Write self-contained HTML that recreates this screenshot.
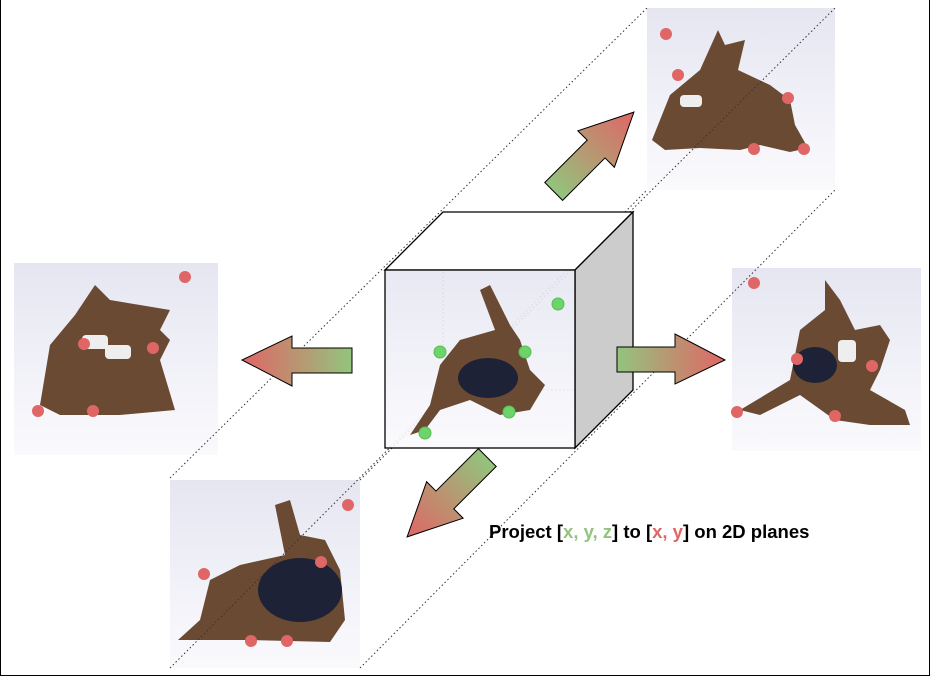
<!DOCTYPE html>
<html><head><meta charset="utf-8"><style>
html,body{margin:0;padding:0;background:#fff;}
svg{display:block;}
</style></head><body>
<svg width="931" height="678" viewBox="0 0 931 678" xmlns="http://www.w3.org/2000/svg">
<defs>
<linearGradient id="bg" x1="0" y1="0" x2="0" y2="1">
<stop offset="0" stop-color="#e6e6f2"/><stop offset="1" stop-color="#fafafd"/></linearGradient>
<linearGradient id="gR" x1="0" y1="0" x2="1" y2="0"><stop offset="0" stop-color="#93c47d"/><stop offset="1" stop-color="#e06666"/></linearGradient>
</defs>
<rect x="0.5" y="-2" width="929" height="677.5" fill="#fff" stroke="#000" stroke-width="1"/>

<rect x="647" y="8" width="188" height="182" fill="url(#bg)"/>
<rect x="14" y="263" width="204" height="192" fill="url(#bg)"/>
<rect x="732" y="268" width="189" height="183" fill="url(#bg)"/>
<rect x="170" y="480" width="190" height="188" fill="url(#bg)"/>

<g fill="#6b4a33">
<path d="M652 140 L670 95 L700 70 L718 30 L725 45 L745 40 L738 70 L770 85 L790 100 L795 125 L808 148 L790 152 L760 145 L740 150 L700 148 L665 150 Z"/>
<path d="M40 405 L50 345 L75 315 L95 285 L110 300 L140 305 L170 310 L160 330 L170 340 L160 360 L175 410 L120 415 L60 415 Z"/>
<path d="M740 410 L790 380 L800 330 L825 310 L825 280 L840 300 L855 330 L880 325 L890 340 L880 370 L870 390 L905 410 L910 425 L870 425 L835 420 L800 395 L760 415 Z"/>
<path d="M178 640 L200 620 L210 580 L240 565 L285 555 L275 505 L290 500 L300 535 L325 540 L340 570 L345 620 L330 642 L250 640 Z"/>
</g>
<g fill="#1e2236">
<ellipse cx="300" cy="590" rx="42" ry="32"/>
<ellipse cx="815" cy="365" rx="22" ry="18"/>
</g>
<g fill="#eeeeee"><rect x="82" y="335" width="26" height="14" rx="4"/><rect x="105" y="345" width="26" height="14" rx="4"/><rect x="680" y="95" width="22" height="12" rx="4"/><rect x="838" y="340" width="18" height="22" rx="4"/></g>

<g stroke="#333" stroke-width="1" stroke-dasharray="1.5,2.5" fill="none">
<line x1="170" y1="478" x2="647" y2="8"/>
<line x1="360" y1="480" x2="835" y2="8"/>
<line x1="360" y1="668" x2="835" y2="190"/>
<line x1="170" y1="668" x2="647" y2="190"/>
<line x1="443" y1="212" x2="443" y2="390"/>
<line x1="443" y1="390" x2="633" y2="390"/>
</g>

<polygon points="385,270 443,212 633,212 575,270" fill="#fff" stroke="#000" stroke-width="1.3"/>
<polygon points="575,270 633,212 633,390 575,448" fill="#cccccc" stroke="#000" stroke-width="1.3"/>
<rect x="385" y="270" width="190" height="178" fill="url(#bg)" fill-opacity="0.9" stroke="#000" stroke-width="1.3"/>
<path d="M410 435 L430 405 L440 365 L460 340 L495 330 L480 290 L490 285 L510 325 L520 340 L530 370 L545 385 L530 410 L500 415 L470 400 L440 410 L425 430 Z" fill="#6b4a33"/>
<ellipse cx="488" cy="378" rx="30" ry="20" fill="#1e2236"/>

<g fill="#6dd36a" stroke="#55c050" stroke-width="1">
<circle cx="558" cy="304" r="6"/><circle cx="440" cy="352" r="6"/><circle cx="525" cy="352" r="6"/>
<circle cx="509" cy="412" r="6"/><circle cx="425" cy="433" r="6"/></g>

<g fill="#e06666">
<circle cx="666" cy="34" r="6"/><circle cx="678" cy="75" r="6"/><circle cx="788" cy="98" r="6"/><circle cx="754" cy="149" r="6"/><circle cx="804" cy="149" r="6"/>
<circle cx="185" cy="277" r="6"/><circle cx="84" cy="344" r="6"/><circle cx="153" cy="348" r="6"/><circle cx="38" cy="411" r="6"/><circle cx="93" cy="411" r="6"/>
<circle cx="754" cy="283" r="6"/><circle cx="797" cy="359" r="6"/><circle cx="872" cy="366" r="6"/><circle cx="737" cy="412" r="6"/><circle cx="835" cy="416" r="6"/>
<circle cx="348" cy="505" r="6"/><circle cx="321" cy="562" r="6"/><circle cx="204" cy="574" r="6"/><circle cx="251" cy="641" r="6"/><circle cx="287" cy="641" r="6"/>
</g>

<g stroke="#000" stroke-width="1">
<polygon transform="translate(671,360)" points="-54,-13 4,-13 4,-26 54,0 4,24 4,12 -54,12" fill="url(#gR)"/>
<polygon transform="translate(297,360) rotate(180)" points="-55,-13 5,-13 5,-26 55,0 5,24 5,12 -55,12" fill="url(#gR)"/>
<polygon transform="translate(594,152) rotate(-45) scale(1.2)" stroke-width="0.85" points="-47,-11 3,-11 3,-22 47,0 3,21 3,10 -47,10" fill="url(#gR)"/>
<polygon transform="translate(447,497) rotate(135) scale(1.2)" stroke-width="0.85" points="-47,-11 3,-11 3,-22 47,0 3,21 3,10 -47,10" fill="url(#gR)"/>
</g>

<text x="489" y="538" font-family="Liberation Sans, sans-serif" font-weight="bold" font-size="18.5" fill="#000">Project [<tspan fill="#93c47d">x, y, z</tspan>] to [<tspan fill="#e06666">x, y</tspan>] on 2D planes</text>
</svg>
</body></html>
